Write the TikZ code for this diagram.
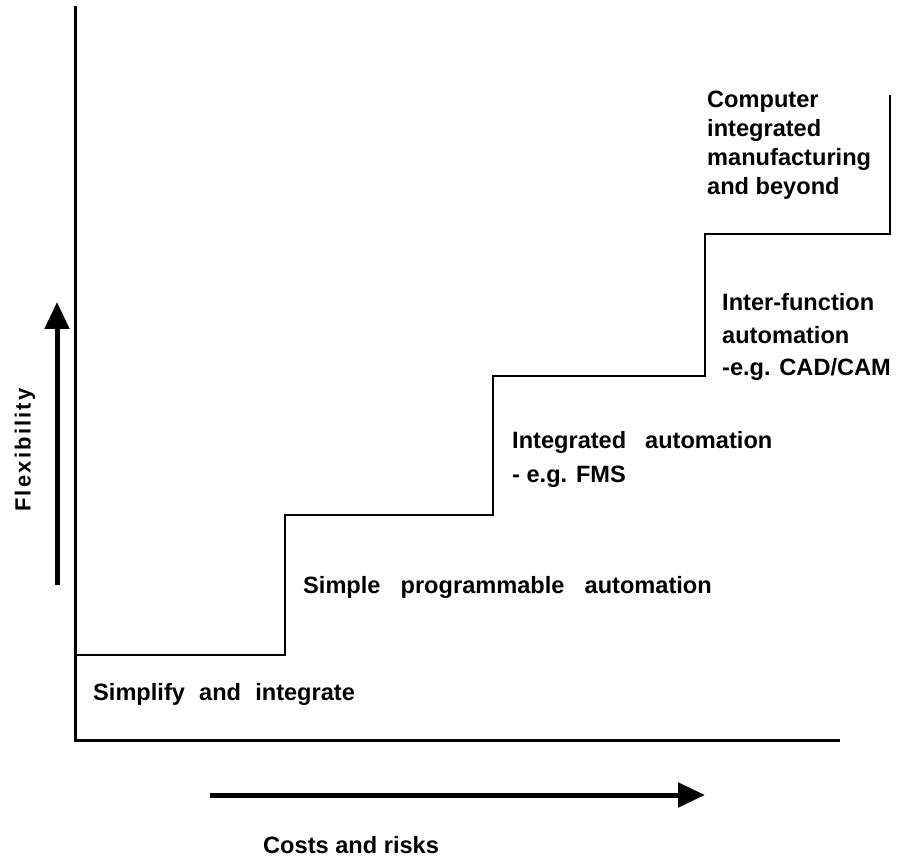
\documentclass[tikz,border=0pt]{standalone}
\usepackage{fontspec}
\setmainfont{Liberation Sans}
\newfontfamily\flexfont[LetterSpace=10]{Liberation Sans}
\usetikzlibrary{arrows.meta}
\newcommand\labelfont{\fontsize{23.6}{29}\selectfont\bfseries}
\newcommand\widelabelfont{\labelfont\spaceskip=0.6em plus 0.1em\relax}
\newcommand\widerlabelfont{\labelfont\spaceskip=0.85em plus 0.1em\relax}
\tikzset{
  axis/.style={line width=3pt, line cap=rect},
  stair/.style={line width=2.8pt, line join=miter},
  bigarrow/.style={line width=5pt, -{Triangle[length=27pt,width=24pt]}},
  lbl/.style={anchor=base west, inner sep=0pt, font=\labelfont},
  lblw/.style={anchor=base west, inner sep=0pt, font=\widelabelfont},
  lblww/.style={anchor=base west, inner sep=0pt, font=\widerlabelfont}
}
\begin{document}
\begin{tikzpicture}[x=1pt,y=-1pt]
  \useasboundingbox (0,0) rectangle (898,861);
  % axes
  \coordinate (top) at (75,8);
  \coordinate (origin) at (75,740);
  \coordinate (xend) at (838,740);
  \draw[axis] (top) -- (origin) -- (xend);
  % staircase
  \coordinate (s0) at (75,655);
  \coordinate (s1) at (285,655);
  \coordinate (s2) at (285,515);
  \coordinate (s3) at (493,515);
  \coordinate (s4) at (493,376);
  \coordinate (s5) at (705,376);
  \coordinate (s6) at (705,234);
  \coordinate (s7) at (890,234);
  \coordinate (s8) at (890,95);
  \draw[stair] (s0) -- (s1) -- (s2) -- (s3) -- (s4) -- (s5) -- (s6) -- (s7) -- (s8);
  % direction arrows
  \coordinate (fa) at (57,585);
  \coordinate (fb) at (57,302);
  \draw[bigarrow] (fa) -- (fb);
  \coordinate (ca) at (210,795);
  \coordinate (cb) at (705,795);
  \draw[bigarrow] (ca) -- (cb);
  % axis labels
  \node[rotate=90, inner sep=0pt, font=\fontsize{22}{26}\selectfont\bfseries\flexfont] (flex) at (25,450) {Flexibility};
  \node[lbl] (costs) at (263,853) {Costs and risks};
  % step labels
  \node[lblw] (l1) at (93,700) {Simplify and integrate};
  \node[lblww] (l2) at (303,593) {Simple programmable automation};
  \node[lblw] (l3a) at (512,448) {Integrated\hspace{0.2em} automation};
  \node[lbl] (l3b) at (512,482) {- e.g. FMS};
  \node[lbl] (l4a) at (722,311) {Inter-function};
  \node[lbl] (l4b) at (722,344) {automation};
  \node[lbl] (l4c) at (722,376) {-e.g. CAD/CAM};
  \node[lbl] (l5a) at (707,108) {Computer};
  \node[lbl] (l5b) at (707,137) {integrated};
  \node[lbl] (l5c) at (707,166) {manufacturing};
  \node[lbl] (l5d) at (707,195) {and beyond};
\end{tikzpicture}
\end{document}
